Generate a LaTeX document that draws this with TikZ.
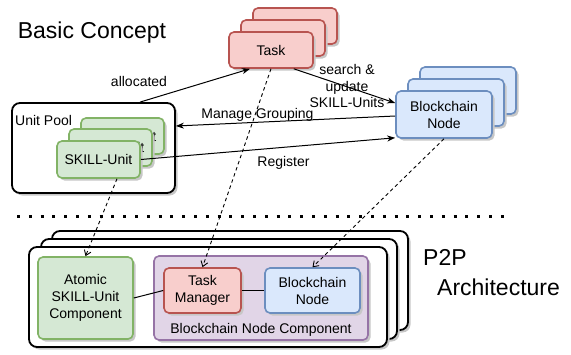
\documentclass[tikz,border=0pt]{standalone}
\usepackage{fontspec}
\setmainfont{Liberation Sans}
\usetikzlibrary{arrows.meta,shadows,calc}
\definecolor{redf}{HTML}{F8CECC}\definecolor{redd}{HTML}{B85450}
\definecolor{bluef}{HTML}{DAE8FC}\definecolor{blued}{HTML}{6C8EBF}
\definecolor{greenf}{HTML}{D5E8D4}\definecolor{greend}{HTML}{82B366}
\definecolor{purf}{HTML}{E1D5E7}\definecolor{purd}{HTML}{9673A6}
\tikzset{
  shad/.style={drop shadow={shadow xshift=2.5pt,shadow yshift=-2.5pt,fill=black!22,opacity=1}},
  box/.style={shad,rounded corners=5pt,line width=1.6pt,inner sep=0pt,align=center,font=\fontsize{14}{17}\selectfont},
  redbox/.style={box,fill=redf,draw=redd},
  bluebox/.style={box,fill=bluef,draw=blued},
  greenbox/.style={box,fill=greenf,draw=greend},
  purbox/.style={box,fill=purf,draw=purd},
  frame/.style={shad,rounded corners=8pt,line width=1.8pt,draw=black,fill=white},
  lbl/.style={font=\fontsize{14}{16.5}\selectfont,align=center,inner sep=0pt},
  big/.style={font=\fontsize{23}{26}\selectfont,inner sep=0pt},
  arr/.style={line width=1pt,-{Stealth[length=8pt,width=6pt,inset=2.5pt]}},
  darr/.style={line width=0.9pt,dash pattern=on 3.5pt off 3pt,-{Straight Barb[length=5pt,width=7pt]}},
  plain/.style={line width=1pt},
}
\begin{document}
\begin{tikzpicture}[x=1pt,y=-1pt]
\useasboundingbox (0,0) rectangle (571,354);
% titles
\node[big] (bc0) at (92,33) {Basic Concept};
\node[big,anchor=west] (p2p) at (423,257) {P2P};
\node[big,anchor=west] (arch) at (437,287) {Architecture};
% Task stack
\draw[redbox] (253,8) rectangle (337,44);
\draw[redbox] (241,20) rectangle (325,56);
\node[redbox,minimum width=84pt,minimum height=36pt] (task) at (271,50) {Task};
% Blockchain stack
\draw[bluebox] (420,67) rectangle (516,114);
\draw[bluebox] (408,79) rectangle (504,126);
\node[bluebox,minimum width=96pt,minimum height=47pt] (bc) at (444,114.5) {Blockchain\\Node};
% Unit pool
\node[frame,minimum width=163pt,minimum height=90pt] (pool) at (93.5,148) {};
\node[lbl,anchor=west] (poollbl) at (15,120) {Unit Pool};
\node[greenbox,minimum width=83pt,minimum height=36pt] (su2) at (122.5,136) {SKILL-Unit};
\node[greenbox,minimum width=83pt,minimum height=37pt] (su1) at (110.5,147.5) {SKILL-Unit};
\node[greenbox,minimum width=83pt,minimum height=37pt] (su) at (98.5,159.5) {SKILL-Unit};
% separator
\draw[line width=3pt,dash pattern=on 3pt off 8.8pt] (17,216) -- (505,216);
% P2P frames
\draw[frame] (52,231) rectangle (408,330);
\draw[frame] (41,239) rectangle (397,339);
\node[frame,minimum width=358pt,minimum height=100pt] (p2pf) at (208,297) {};
\node[greenbox,minimum width=95pt,minimum height=82pt] (atomic) at (85.5,298) {Atomic\\SKILL-Unit\\Component};
\node[purbox,minimum width=214pt,minimum height=84pt] (bnc) at (261,298) {};
\node[lbl] (bnclbl) at (261,330) {Blockchain Node Component};
\node[redbox,minimum width=77pt,minimum height=45pt] (tm) at (202.5,290.5) {Task\\Manager};
\node[bluebox,minimum width=95pt,minimum height=45pt] (lbn) at (312.5,290.5) {Blockchain\\Node};
\draw[plain] (atomic.east) -- (tm.west);
\draw[plain] (tm.east) -- (lbn.west);
% connectors
\draw[arr] ([xshift=46.5pt]pool.north) -- ([xshift=-21pt]task.south);
\node[lbl] (allocl) at (139,81) {allocated};
\draw[arr] ([xshift=-20pt]task.south east) -- ([yshift=11.5pt]bc.west);
\node[lbl] (searchl) at (347,86) {search \&\\update\\SKILL-Units};
\draw[arr] ([yshift=-1.5pt]bc.west) -- ([yshift=22pt]pool.east);
\node[lbl] (mgl) at (257.5,115) {Manage Grouping};
\draw[arr] (su.east) -- ([yshift=1pt]bc.south west);
\node[lbl] (regl) at (283.5,163) {Register};
\draw[darr] ([xshift=18.5pt]su.south) -- (atomic.north);
\draw[darr] (task.south) -- (tm.north);
\draw[darr] (bc.south) -- (lbn.north);
\end{tikzpicture}
\end{document}
